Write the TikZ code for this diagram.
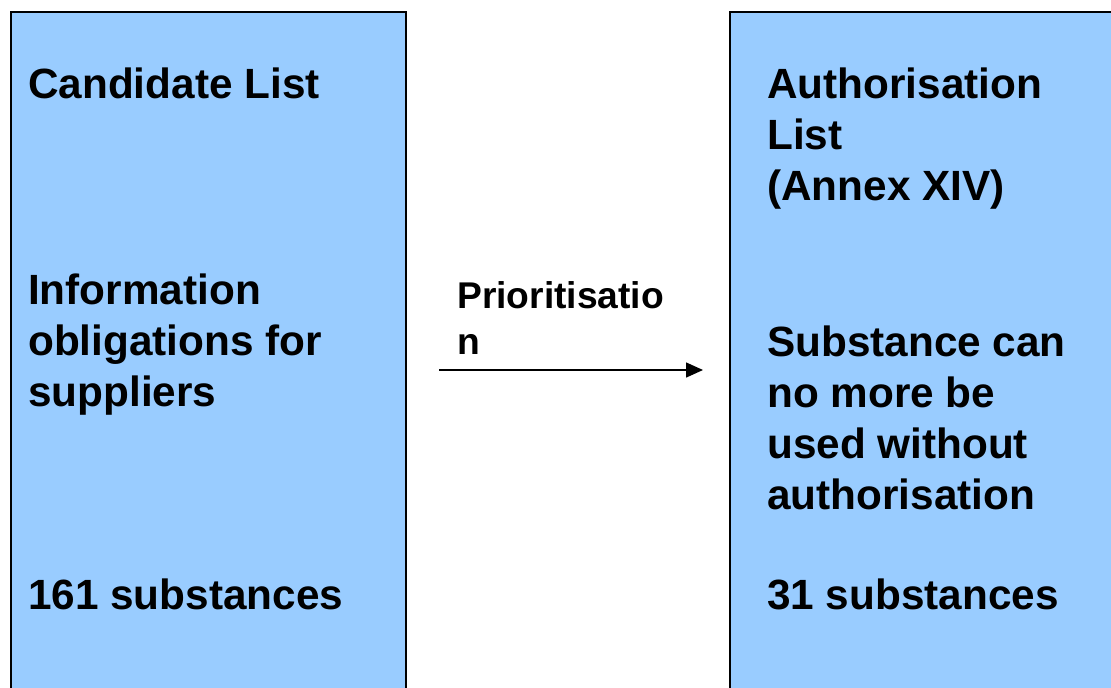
\documentclass[tikz,border=0pt]{standalone}
\usepackage{fontspec}
\setmainfont{Liberation Sans}
\usetikzlibrary{arrows.meta}
\definecolor{boxblue}{RGB}{153,204,255}
\tikzset{
  listbox/.style={draw=black, line width=2pt, fill=boxblue},
  bigtext/.style={anchor=base west, inner sep=0pt, font=\fontsize{42.3}{51}\selectfont\bfseries},
  smalltext/.style={anchor=base west, inner sep=0pt, font=\fontsize{37.2}{46}\selectfont\bfseries},
  flow/.style={line width=1.5pt, -{Triangle[length=17pt, width=15pt]}}
}
\newcommand{\lines}[1]{\begin{tabular}[t]{@{}l@{}}#1\end{tabular}}
\begin{document}
\begin{tikzpicture}[x=1pt, y=-1pt]
\useasboundingbox (0,0) rectangle (1111,688);
\clip (0,0) rectangle (1111,688);
\fill[white] (0,0) rectangle (1111,688);
% boxes
\draw[listbox] (11,12) rectangle (406,720);
\draw[listbox] (730,12) rectangle (1140,720);
% left texts
\node[bigtext] (cand) at (28,98) {\lines{Candidate List}};
\node[bigtext] (info) at (28,304) {\lines{Information\\obligations for\\suppliers}};
\node[bigtext] (n161) at (28,609) {\lines{161 substances}};
% right texts
\node[bigtext] (auth) at (767,98) {\lines{Authorisation\\List\\(Annex XIV)}};
\node[bigtext] (subst) at (767,356) {\lines{Substance can\\no more be\\used without\\authorisation}};
\node[bigtext] (n31) at (767,609) {\lines{31 substances}};
% arrow
\node[smalltext] (prio) at (457,308) {\lines{Prioritisatio\\n}};
\coordinate (astart) at (439,370);
\coordinate (aend) at (703,370);
\draw[flow] (astart) -- (aend);
\end{tikzpicture}
\end{document}
